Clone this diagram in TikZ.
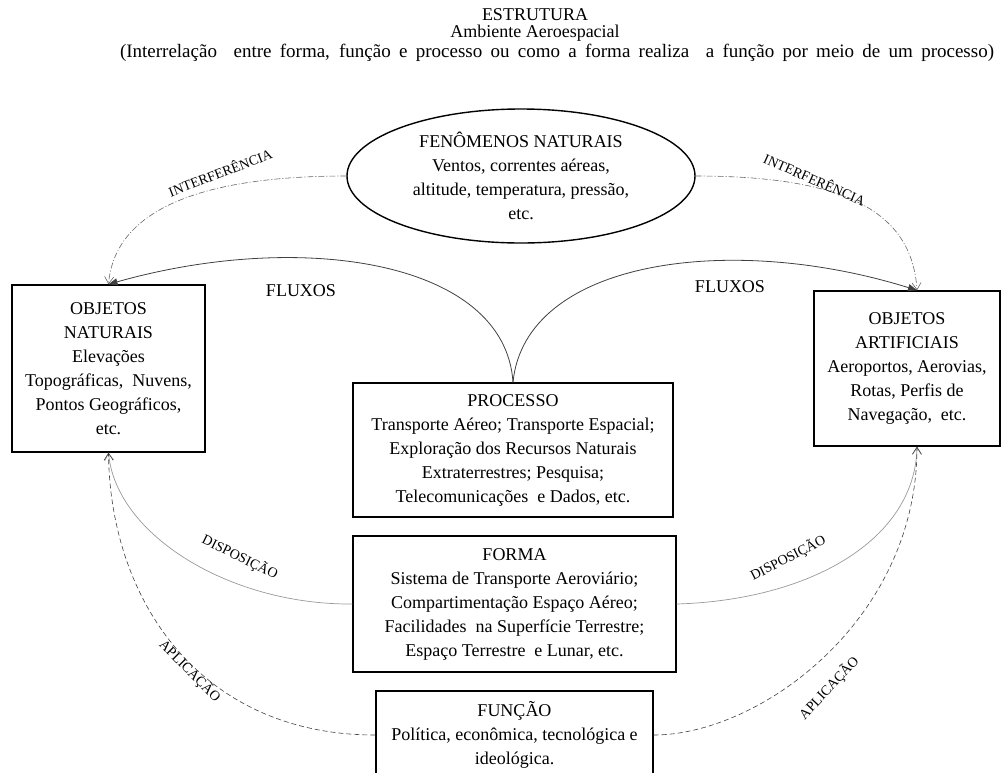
\documentclass[tikz,border=0pt]{standalone}
\usepackage{fontspec}
\setmainfont{Liberation Serif}
\usetikzlibrary{arrows.meta,shapes.geometric}

\begin{document}
\begin{tikzpicture}[
  x=1pt, y=-1pt,
  bodyfont/.style={font=\fontsize{18}{24}\selectfont},
  headfont/.style={font=\fontsize{18}{19}\selectfont, inner sep=0pt},
  box/.style={bodyfont, draw=black, line width=1.4pt, align=center, inner sep=0pt},
  tag/.style={font=\fontsize{14}{15}\selectfont, inner sep=0pt},
  fluxo/.style={draw=black!75, line width=0.8pt, -{Triangle[length=9pt,width=7pt]}},
  interf/.style={draw=black!60, line width=0.6pt,
    dash pattern=on 6pt off 2pt on 1pt off 2pt, -{Straight Barb[length=7pt,width=9pt]}},
  dispo/.style={draw=black!40, line width=0.7pt, -{Straight Barb[length=7pt,width=9pt]}},
  aplic/.style={draw=black!75, line width=0.6pt,
    dash pattern=on 5pt off 3pt, -{Straight Barb[length=7pt,width=9pt]}}
]
\useasboundingbox (0,0) rectangle (1005,772);

% heading
\node[headfont] (t1) at (535,15) {ESTRUTURA};
\node[headfont] (t2) at (535,33) {Ambiente Aeroespacial};
\node[font=\fontsize{19}{20}\selectfont, inner sep=0pt] (t3) at (557,53)
  {\makebox[874pt][s]{(Interrelação\ \ entre forma, função e processo ou como a forma realiza\ \ a função por meio de um processo)}};

% natural phenomena
\node[box, ellipse, minimum width=348pt, minimum height=134pt] (fen) at (521,176)
  {FENÔMENOS NATURAIS\\Ventos, correntes aéreas,\\altitude, temperatura, pressão,\\etc.};

% objects
\node[box, minimum width=193pt, minimum height=167pt] (objnat) at (108.5,368.5)
  {OBJETOS\\NATURAIS\\Elevações\\Topográficas,\ \ Nuvens,\\Pontos Geográficos,\\etc.};
\node[box, minimum width=186pt, minimum height=155pt] (objart) at (907,368.5)
  {OBJETOS\\ARTIFICIAIS\\Aeroportos, Aerovias,\\Rotas, Perfis de\\Navegação,\ \ etc.};

% central column
\node[box, minimum width=320pt, minimum height=134pt] (proc) at (513,450)
  {PROCESSO\\Transporte Aéreo; Transporte Espacial;\\Exploração dos Recursos Naturais\\Extraterrestres; Pesquisa;\\Telecomunicações\ \ e Dados, etc.};
\node[box, minimum width=323pt, minimum height=136pt] (forma) at (514.5,604)
  {FORMA\\Sistema de Transporte Aeroviário;\\Compartimentação Espaço Aéreo;\\Facilidades\ \ na Superfície Terrestre;\\Espaço Terrestre\ \ e Lunar, etc.};
\node[box, minimum width=277pt, minimum height=88pt] (funcao) at (514.5,735)
  {FUNÇÃO\\Política, econômica, tecnológica e\\ideológica.};

% flows
\draw[fluxo] (proc.north) .. controls (505,260) and (300,230) .. (objnat.north);
\draw[fluxo] (proc.north) .. controls (525,260) and (730,232) .. ([xshift=10pt]objart.north);
\node[bodyfont] (fl1) at (301,291) {FLUXOS};
\node[bodyfont] (fl2) at (730,287) {FLUXOS};

% interference
\draw[interf] (fen.west) .. controls (200,176) and (115,210) .. (objnat.north);
\draw[interf] (fen.east) .. controls (842,176) and (912,210) .. ([xshift=10pt]objart.north);
\node[tag, rotate=21] (i1) at (220,172) {INTERFERÊNCIA};
\node[tag, rotate=-24] (i2) at (815,179) {INTERFERÊNCIA};

% disposition
\draw[dispo] (forma.west) .. controls (230,605) and (116,535) .. (objnat.south);
\draw[dispo] (forma.east) .. controls (810,600) and (915,540) .. ([xshift=10pt]objart.south);
\node[tag, rotate=-26] (d1) at (240,557) {DISPOSIÇÃO};
\node[tag, rotate=27] (d2) at (788,558) {DISPOSIÇÃO};

% application
\draw[aplic] (funcao.west) .. controls (200,735) and (110,600) .. (objnat.south);
\draw[aplic] (funcao.east) .. controls (760,735) and (917,620) .. ([xshift=10pt]objart.south);
\node[tag, rotate=-45] (a1) at (190,671) {APLICAÇÃO};
\node[tag, rotate=47] (a2) at (829,688) {APLICAÇÃO};
\end{tikzpicture}
\end{document}
